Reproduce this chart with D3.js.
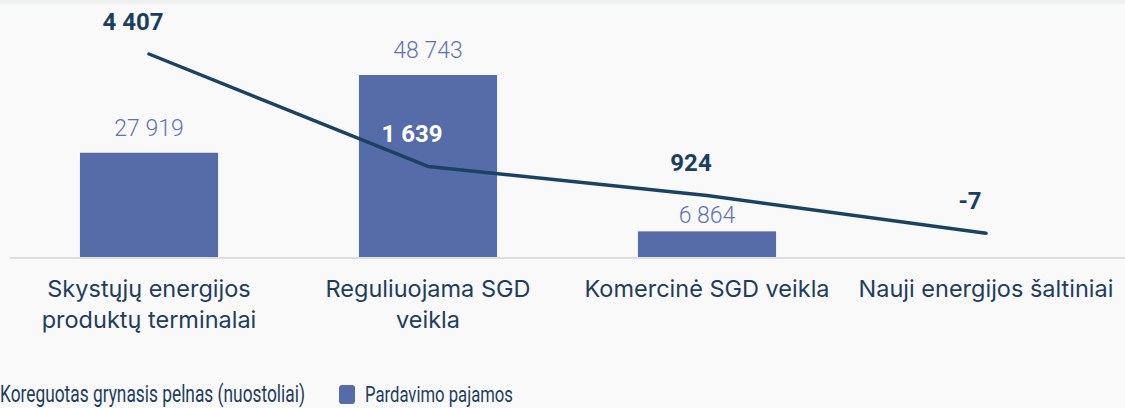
<!DOCTYPE html>
<html>
<head>
<meta charset="utf-8">
<script src="https://cdn.jsdelivr.net/npm/d3@7"></script>
<style>
  html, body { margin: 0; padding: 0; background: #f9f9f9; }
  svg { display: block; }
  text { font-family: Roboto, "Noto Sans", sans-serif; }
</style>
</head>
<body>
<div id="chart"></div>
<script>
// ---- data ----
const categories = [
  ["Skystųjų energijos", "produktų terminalai"],
  ["Reguliuojama SGD", "veikla"],
  ["Komercinė SGD veikla"],
  ["Nauji energijos šaltiniai"]
];
const revenue = [27919, 48743, 6864, null];        // Pardavimo pajamos
const profit = [4407, 1639, 924, -7];               // Koreguotas grynasis pelnas (nuostoliai)
const legendLabels = ["Koreguotas grynasis pelnas (nuostoliai)", "Pardavimo pajamos"];

// ---- layout ----
const W = 1125, H = 408;
const baseY = 257;
const fmtSp = v => (v < 0 ? "-" : "") + d3.format(",")(Math.abs(v)).replace(/,/g, " ");

const svg = d3.select("#chart").append("svg").attr("width", W).attr("height", H);
svg.append("rect").attr("x", 0).attr("y", 0).attr("width", W).attr("height", H).attr("fill", "#f9f9f9");
svg.append("rect").attr("x", 0).attr("y", 0).attr("width", W).attr("height", 4).attr("fill", "#eef0f0");

const x = d3.scaleBand().domain(d3.range(categories.length)).range([9.5, 1125.5]).paddingInner(0.505).paddingOuter(0.2525);
const yBar = d3.scaleLinear().domain([0, 48743]).range([baseY, 75]);
const yLine = d3.scaleLinear().domain([0, 4407]).range([233, 54]);

// baseline
svg.append("line").attr("x1", 10).attr("x2", W).attr("y1", baseY + 1).attr("y2", baseY + 1)
  .attr("stroke", "#dedede").attr("stroke-width", 2);

// bars
const barData = revenue.map((v, i) => ({ i, v })).filter(d => d.v != null);
svg.selectAll("rect.bar").data(barData).join("rect").attr("class", "bar")
  .attr("x", d => x(d.i)).attr("width", x.bandwidth())
  .attr("y", d => yBar(d.v)).attr("height", d => baseY - yBar(d.v))
  .attr("fill", "#566ca8");

// bar labels
svg.selectAll("text.barlab").data(barData).join("text").attr("class", "barlab")
  .attr("x", d => x(d.i) + x.bandwidth() / 2)
  .attr("y", d => yBar(d.v) - ((baseY - yBar(d.v)) < 40 ? 8 : 17))
  .attr("text-anchor", "middle").attr("font-size", 23).attr("font-weight", 300)
  .attr("fill", "#5f73b0").text(d => fmtSp(d.v));

// line
const cx = i => x(i) + x.bandwidth() / 2;
svg.append("path").datum(profit)
  .attr("d", d3.line().x((d, i) => cx(i)).y(d => yLine(d)))
  .attr("fill", "none").attr("stroke", "#1c4262").attr("stroke-width", 3.5)
  .attr("stroke-linecap", "round").attr("stroke-linejoin", "round");

// line labels
svg.selectAll("text.linelab").data(profit).join("text").attr("class", "linelab")
  .attr("x", (d, i) => cx(i) - 16).attr("y", d => yLine(d) - 24)
  .attr("text-anchor", "middle").attr("font-size", 24).attr("font-weight", 700)
  .attr("fill", (d, i) => (revenue[i] != null && yLine(d) - 30 > yBar(revenue[i])) ? "#ffffff" : "#1c3f5e")
  .text(d => fmtSp(d));

// category labels
const cat = svg.selectAll("text.cat").data(categories).join("text").attr("class", "cat")
  .attr("x", (d, i) => cx(i)).attr("y", 297)
  .attr("text-anchor", "middle").attr("font-size", 23.5).attr("fill", "#1f3d5c")
  .style("font-family", "Inter, Roboto, sans-serif");
cat.selectAll("tspan").data(d => d).join("tspan")
  .attr("x", function () { return d3.select(this.parentNode).attr("x"); })
  .attr("dy", (d, j) => j === 0 ? 0 : 31).text(d => d);

// legend (condensed text: horizontally scaled to the reference's narrow face)
const legendItems = [
  { label: legendLabels[0], x: 0, w: 305, swatch: false },
  { label: legendLabels[1], x: 365, w: 148, swatch: true }
];
const lg = svg.append("g");
legendItems.forEach(it => {
  const g = lg.append("g").attr("transform", `translate(${it.x},402)`);
  const t = g.append("text").attr("x", 0).attr("y", 0).attr("font-size", 23).attr("fill", "#1f3d5c").text(it.label);
  const nat = t.node().getComputedTextLength();
  t.attr("transform", `scale(${it.w / nat},1)`);
  if (it.swatch) {
    lg.append("rect").attr("x", it.x - 26).attr("y", 385).attr("width", 16).attr("height", 19).attr("rx", 3)
      .attr("fill", "#566ca8");
  }
});
</script>
</body>
</html>
